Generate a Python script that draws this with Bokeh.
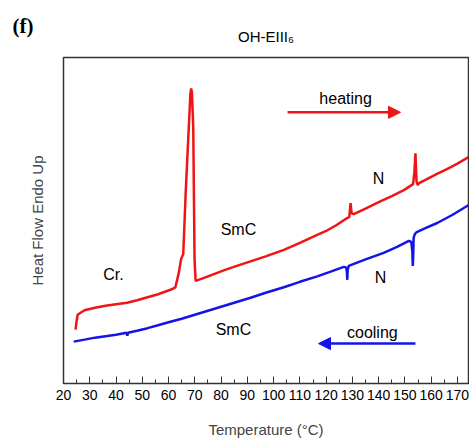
from bokeh.plotting import figure
from bokeh.models import Range1d, Label, Arrow, NormalHead, SingleIntervalTicker, FixedTicker, Title
from bokeh.embed import file_html
from bokeh.resources import INLINE

# Heating curve (temperature in degC, heat flow in arbitrary units, endo up)
heat_T = [24.6, 25.0, 25.4, 26.5, 28, 32, 36, 40, 44.2, 48, 52, 56, 60.7, 62.6, 63.9,
          64.8, 65.6, 66.5, 67.7, 68.3, 68.6, 68.9, 69.4, 69.9, 70.3, 73, 77, 81, 86,
          91.2, 97, 103.9, 110, 116.6, 120, 124, 128, 128.8, 129.3, 129.7, 130.5, 135,
          140, 145, 149.6, 153.1, 153.6, 154.0, 154.4, 154.9, 155.4, 158, 162, 166,
          170, 174.2]
heat_hf = [54, 63, 69, 71, 73.5, 76, 78, 79.5, 81, 83.5, 86.5, 89.5, 94, 96.5, 111,
           125, 130, 190, 257, 290, 296, 292, 257, 124, 103, 105.5, 109.5, 113.5, 118,
           122.5, 127.5, 134, 141, 149, 153, 159, 166, 167, 181, 171, 170, 175.5,
           182, 188, 194, 200, 212, 231, 203, 199, 201, 204.5, 210, 215,
           220.5, 227]

# Cooling curve
cool_T = [23.9, 28, 32, 36, 40, 44.0, 44.3, 44.6, 48, 52, 56, 60, 65, 70, 75, 80, 85,
          91.2, 97, 103.9, 110, 116.6, 122, 126.7, 127.6, 127.9, 128.05, 128.2, 128.6,
          135, 141.9, 147, 151.5, 152.4, 152.8, 153.0, 153.15, 153.3, 153.8, 154.3,
          158, 162.3, 168, 174.3]
cool_hf = [42, 44, 46, 47.5, 49, 50.8, 48, 51, 53, 55.5, 58.5, 61.5, 65, 69, 73, 77, 81,
           86, 91, 96.5, 102, 107.5, 112.5, 117, 116.5, 112, 104, 114, 118,
           124.5, 131, 137, 143, 142, 133, 118, 128, 146, 150, 151.5,
           156, 161, 169, 179]

x_ticks_interval = 10

RED = "#f01414"
BLUE = "#1414e6"
FONT = "Liberation Sans"

p = figure(width=469, height=440, output_backend="svg", toolbar_location=None,
           x_range=Range1d(20, 174.2), y_range=Range1d(0, 327),
           min_border_left=63, min_border_right=1, min_border_top=57, min_border_bottom=56,
           x_axis_location="below", y_axis_location="left")
p.background_fill_color = "white"
p.border_fill_color = "white"
p.xgrid.visible = False
p.ygrid.visible = False
p.outline_line_color = "#333333"
p.outline_line_width = 1.5

p.line(heat_T, heat_hf, line_color=RED, line_width=2.5)
p.line(cool_T, cool_hf, line_color=BLUE, line_width=2.5)

xa = p.xaxis[0]
xa.ticker = SingleIntervalTicker(interval=x_ticks_interval, num_minor_ticks=2)
xa.major_tick_in = 7
xa.major_tick_out = 0
xa.minor_tick_in = 4
xa.minor_tick_out = 0
xa.major_label_standoff = 6
xa.major_label_text_font = FONT
xa.major_label_text_font_size = "14px"
xa.major_label_text_color = "black"
xa.axis_label = "Temperature (°C)"
xa.axis_label_text_font = FONT
xa.axis_label_text_font_size = "15px"
xa.axis_label_text_font_style = "normal"
xa.axis_label_standoff = 18
xa.axis_line_color = "#333333"
xa.major_tick_line_color = "#333333"
xa.minor_tick_line_color = "#333333"

ya = p.yaxis[0]
ya.ticker = FixedTicker(ticks=[])
ya.major_tick_in = 0
ya.major_tick_out = 0
ya.minor_tick_in = 0
ya.minor_tick_out = 0
ya.major_label_standoff = 0
ya.axis_label = "Heat Flow Endo Up"
ya.axis_label_text_font = FONT
ya.axis_label_text_font_size = "15px"
ya.axis_label_text_font_style = "normal"
ya.axis_label_standoff = 18
ya.axis_line_color = "#333333"

# titles (first added sits closest to the frame)
p.add_layout(Title(text="OH-EIII₆", text_font=FONT, text_font_size="15px",
                   text_font_style="normal", align="center", standoff=25,
                   text_color="black"), "above")
p.add_layout(Title(text="(f)", text_font="Liberation Serif", text_font_size="21px",
                   text_font_style="bold", align="left", offset=-51, standoff=-48,
                   text_color="black"), "above")

def lab(x, y, t, size="16px", color="black", align="center", baseline="middle"):
    p.add_layout(Label(x=x, y=y, text=t, text_font=FONT, text_font_size=size,
                       text_color=color, text_align=align, text_baseline=baseline))

lab(127.4, 286, "heating")
lab(137.6, 51, "cooling")
lab(86.6, 154, "SmC")
lab(84.7, 54, "SmC")
lab(39.0, 109, "Cr.")
lab(139.9, 206, "N")
lab(140.7, 106, "N")

p.add_layout(Arrow(end=NormalHead(size=12, fill_color=RED, line_color=RED),
                   x_start=105.3, y_start=272, x_end=148.3, y_end=272,
                   line_color=RED, line_width=2.5))
p.add_layout(Arrow(end=NormalHead(size=12, fill_color=BLUE, line_color=BLUE),
                   x_start=154.0, y_start=40, x_end=117.1, y_end=40,
                   line_color=BLUE, line_width=2.5))

open("out.html", "w").write(file_html(p, INLINE))
